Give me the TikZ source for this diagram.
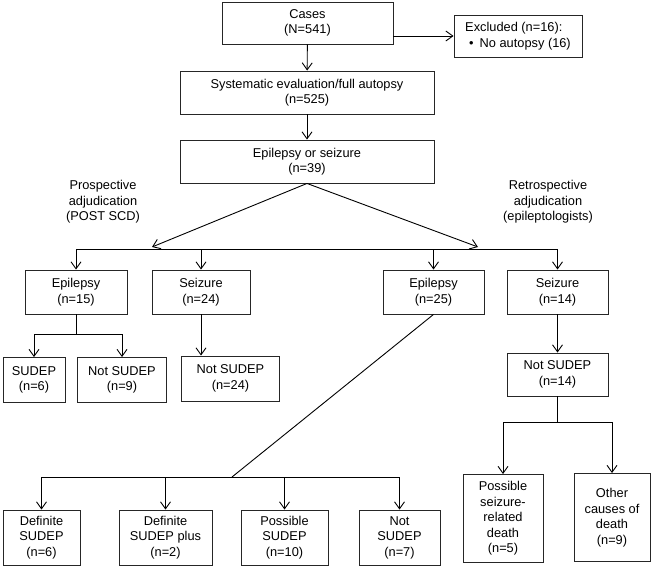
\documentclass[tikz,border=0pt]{standalone}
\usepackage{fontspec}
\setmainfont{Liberation Sans}
\usetikzlibrary{arrows.meta}

\begin{document}
\begin{tikzpicture}[
  x=1pt, y=-1pt,
  box/.style={draw=black!85, line width=0.9pt, align=center, inner sep=2pt,
              font=\fontsize{12.8}{15.5}\selectfont},
  lbl/.style={align=center, font=\fontsize{12.8}{15.5}\selectfont},
  arr/.style={-{Straight Barb[length=7pt,width=10pt]}, line width=0.9pt},
  ln/.style={line width=0.9pt},
]
\useasboundingbox (0,0) rectangle (651,567);
% top chain
\node[box, minimum width=171pt, minimum height=42pt] (cases) at (307.5,23) {Cases\\(N=541)};
\node[box, minimum width=128pt, minimum height=42pt, align=left] (excl) at (518,36)
  {Excluded (n=16):\\\hspace{4pt}\textbullet\hspace{6pt}No autopsy (16)};
\node[box, minimum width=254pt, minimum height=43pt] (sys) at (307,92.5) {Systematic evaluation/full autopsy\\(n=525)};
\node[box, minimum width=254pt, minimum height=43pt] (epis) at (307,161.5) {Epilepsy or seizure\\(n=39)};
\draw[arr] (cases) -- (sys);
\draw[arr] (sys) -- (epis);
\draw[arr] (cases.east |- excl.west) -- (excl.west);
% adjudication labels
\node[lbl] (pros) at (103,202) {Prospective\\adjudication\\(POST SCD)};
\node[lbl] (retro) at (548,202) {Retrospective\\adjudication\\(epileptologists)};
% second level
\node[box, minimum width=102pt, minimum height=44pt] (epi15) at (76,292) {Epilepsy\\(n=15)};
\node[box, minimum width=98pt, minimum height=44pt] (sei24) at (201,292) {Seizure\\(n=24)};
\node[box, minimum width=101pt, minimum height=44pt] (epi25) at (433.5,292) {Epilepsy\\(n=25)};
\node[box, minimum width=101pt, minimum height=44pt] (sei14) at (557.5,292) {Seizure\\(n=14)};
\coordinate (busL) at (77,249);
\coordinate (busR) at (558,249);
\draw[ln] (busL) -- (busR);
\draw[arr] (epis.south) -- (152,247);
\draw[arr] (epis.south) -- (478,247);
\foreach \n in {epi15, sei24, epi25, sei14}
  \draw[arr] (busL -| \n.north) -- (\n.north);
% prospective outcomes
\node[box, minimum width=62pt, minimum height=45pt] (sud6) at (34,380) {SUDEP\\(n=6)};
\node[box, minimum width=89pt, minimum height=45pt] (ns9) at (122,380) {Not SUDEP\\(n=9)};
\node[box, minimum width=98pt, minimum height=45pt] (ns24) at (230.5,378.5) {Not SUDEP\\(n=24)};
\coordinate (split15) at (76,334);
\draw[ln] (epi15.south) -- (split15);
\draw[ln] (split15 -| sud6.north) -- (split15 -| ns9.north);
\draw[arr] (split15 -| sud6.north) -- (sud6.north);
\draw[arr] (split15 -| ns9.north) -- (ns9.north);
\draw[arr] (sei24.south) -- (sei24.south |- ns24.north);
% retrospective outcomes
\node[box, minimum width=101pt, minimum height=43pt] (ns14) at (557.5,374.5) {Not SUDEP\\(n=14)};
\draw[arr] (sei14) -- (ns14);
\node[box, minimum width=77pt, minimum height=55pt] (def) at (41.5,537.5) {Definite\\SUDEP\\(n=6)};
\node[box, minimum width=93pt, minimum height=55pt] (defp) at (165.5,537.5) {Definite\\SUDEP plus\\(n=2)};
\node[box, minimum width=87pt, minimum height=55pt] (pos) at (284.5,537.5) {Possible\\SUDEP\\(n=10)};
\node[box, minimum width=81pt, minimum height=55pt] (ns7) at (399.5,537.5) {Not\\SUDEP\\(n=7)};
\coordinate (bus25) at (232,477);
\draw[ln] (epi25.south) -- (bus25);
\draw[ln] (bus25 -| def.north) -- (bus25 -| ns7.north);
\foreach \n in {def, defp, pos, ns7}
  \draw[arr] (bus25 -| \n.north) -- (\n.north);
\node[box, minimum width=80pt, minimum height=88pt] (psr) at (503,518.5) {Possible\\seizure-\\related\\death\\(n=5)};
\node[box, minimum width=76pt, minimum height=88pt] (oth) at (612,517.5) {Other\\causes of\\death\\(n=9)};
\coordinate (split14) at (557.5,422);
\draw[ln] (ns14.south) -- (split14);
\draw[ln] (split14 -| psr.north) -- (split14 -| oth.north);
\draw[arr] (split14 -| psr.north) -- (psr.north);
\draw[arr] (split14 -| oth.north) -- (oth.north);
\end{tikzpicture}
\end{document}
